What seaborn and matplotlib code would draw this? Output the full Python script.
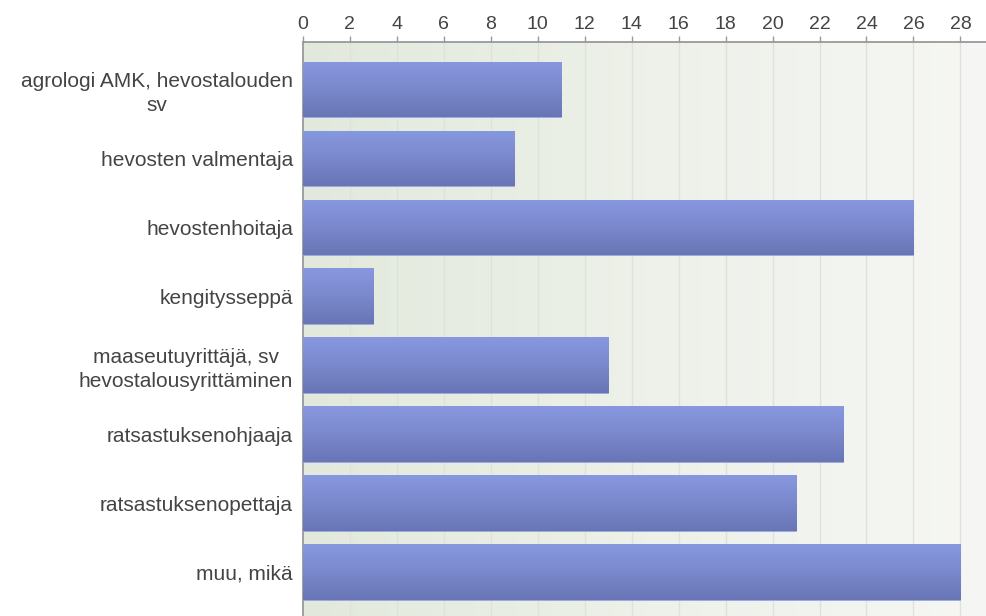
import numpy as np
import pandas as pd
import matplotlib
matplotlib.use('Agg')
import matplotlib.pyplot as plt
import seaborn as sns
from matplotlib.colors import LinearSegmentedColormap


categories = ['agrologi AMK, hevostalouden\nsv', 'hevosten valmentaja', 'hevostenhoitaja',
              'kengitysseppä', 'maaseutuyrittäjä, sv\nhevostalousyrittäminen',
              'ratsastuksenohjaaja', 'ratsastuksenopettaja', 'muu, mikä']
counts = [11, 9, 26, 3, 13, 23, 21, 28]
x_ticks = list(range(0, 30, 2))

df = pd.DataFrame({'ammatti': categories, 'lkm': counts})

sns.set_theme(style='white')
plt.rcParams['font.family'] = ['Liberation Sans', 'DejaVu Sans']

fig = plt.figure(figsize=(9.87, 6.16), dpi=100)
ax = fig.add_axes([302.7 / 987, -4.6 / 616, 1 - 302.7 / 987, (616 - 41.7 + 4.6) / 616])

sns.barplot(data=df, x='lkm', y='ammatti', orient='h', color='#7886cc', width=0.81,
            ax=ax, zorder=3)

# taustan liukuväri
bg = LinearSegmentedColormap.from_list('bg', ['#e2e9dc', '#edf1e9', '#f6f7f4'])
ax.imshow(np.linspace(0, 1, 256).reshape(1, -1), cmap=bg, aspect='auto',
          extent=[0, 1, 0, 1], transform=ax.transAxes, zorder=0)

# palkkien liukuväri
barcm = LinearSegmentedColormap.from_list('bar', ['#8898e0', '#7a88cc', '#6876b6'])
for p in ax.patches:
    x0, y0 = p.get_x(), p.get_y()
    w, h = p.get_width(), p.get_height()
    im = ax.imshow(np.linspace(0, 1, 64).reshape(-1, 1), cmap=barcm, aspect='auto',
                   extent=[x0, x0 + w, y0 + h, y0], zorder=4)
    im.set_clip_path(p)
    p.set_edgecolor('#9aa6e0')
    p.set_linewidth(0.6)

ax.set_xlim(0, 29.13)
ax.set_ylim(7.7, -0.693)
ax.set_xticks(x_ticks)
ax.xaxis.tick_top()
ax.grid(axis='x', color='#dfe2dc', linewidth=1, zorder=1)
ax.set_axisbelow(True)
ax.set_xlabel('')
ax.set_ylabel('')

for s in ['right', 'bottom']:
    ax.spines[s].set_visible(False)
for s in ['top', 'left']:
    ax.spines[s].set_color('#999999')
    ax.spines[s].set_linewidth(1.3)

ax.tick_params(axis='x', top=True, length=4, width=1, color='#999999', labelsize=14,
               labelcolor='#444444', pad=2)
ax.tick_params(axis='y', left=False, length=0, labelsize=15, labelcolor='#444444', pad=7)
for lab in ax.get_yticklabels():
    lab.set_multialignment('center')
    lab.set_linespacing(1.32)

fig.savefig('out.png', dpi=100)
